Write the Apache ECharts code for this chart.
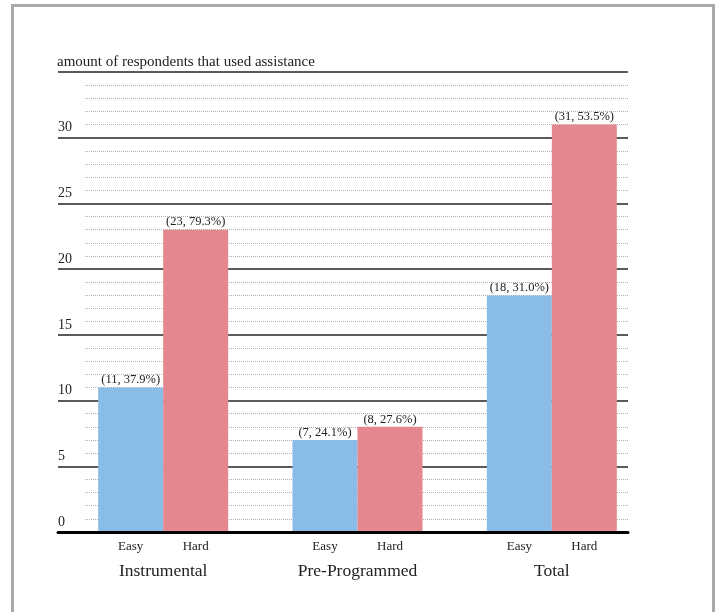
<!DOCTYPE html>
<html>
<head>
<meta charset="utf-8">
<script src="https://cdn.jsdelivr.net/npm/echarts@6/dist/echarts.min.js"></script>
<style>
  html, body { margin: 0; padding: 0; background: #fff; }
  #frame {
    position: absolute; left: 11px; top: 4px; width: 698px; height: 640px;
    border: 3px solid #aaaaaa; box-sizing: content-box;
  }
  #chart { position: absolute; left: 0; top: 0; width: 720px; height: 612px; }
</style>
</head>
<body>
<div id="frame"></div>
<div id="chart"></div>
<script>
// Assistance usage by task group and difficulty
const groups = ['Instrumental', 'Pre-Programmed', 'Total'];
const levels = ['Easy', 'Hard'];
const easyCounts = [11, 7, 18];
const hardCounts = [23, 8, 31];
const easyShares = ['37.9%', '24.1%', '31.0%'];
const hardShares = ['79.3%', '27.6%', '53.5%'];
const yMax = 35;
const yStep = 5;

const serif = 'Liberation Serif';
const chart = echarts.init(document.getElementById('chart'), null, { renderer: 'canvas' });

function barLabel(shares) {
  return {
    show: true,
    position: 'top',
    distance: 1,
    fontFamily: serif,
    fontSize: 12.5,
    color: '#222',
    formatter: p => '(' + p.value + ', ' + shares[p.dataIndex] + ')'
  };
}

chart.setOption({
  animation: false,
  backgroundColor: 'transparent',
  title: {
    text: 'amount of respondents that used assistance',
    left: 57, top: 55, padding: 0,
    textStyle: { fontFamily: serif, fontSize: 15, fontWeight: 'normal', color: '#222' }
  },
  grid: [
    // major lines, tick labels and baseline
    { left: 58, right: 92, top: 72, bottom: 80 },
    // dotted unit lines
    { left: 85, right: 92, top: 72, bottom: 80 },
    // bars
    { left: 66, right: 71, top: 72, bottom: 80 }
  ],
  xAxis: [
    {
      gridIndex: 0, type: 'value', min: 0, max: 1, z: 5,
      axisLine: { show: true, lineStyle: { color: '#000', width: 3 } },
      axisTick: { show: false }, axisLabel: { show: false }, splitLine: { show: false }
    },
    {
      gridIndex: 1, type: 'value', min: 0, max: 1, show: false
    },
    {
      gridIndex: 2, type: 'category', data: groups,
      axisLine: { show: false }, axisTick: { show: false }, splitLine: { show: false },
      axisLabel: {
        margin: 5,
        interval: 0,
        formatter: v => levels.map(l => '{s|' + l + '}').join('') + '\n{g|' + v + '}',
        rich: {
          s: { fontFamily: serif, fontSize: 13, color: '#222', width: 65, align: 'center', lineHeight: 20 },
          g: { fontFamily: serif, fontSize: 17.5, color: '#222', width: 130, align: 'center', lineHeight: 29 }
        }
      }
    }
  ],
  yAxis: [
    {
      gridIndex: 0, type: 'value', min: 0, max: yMax, interval: yStep,
      axisLine: { show: false }, axisTick: { show: false },
      splitLine: { show: true, lineStyle: { color: '#5a5a5a', width: 2 } },
      axisLabel: {
        inside: true, margin: 0,
        verticalAlign: 'bottom',
        fontFamily: serif, fontSize: 14, color: '#222',
        padding: [0, 0, 3, 0],
        formatter: v => (v === yMax ? '' : String(v))
      }
    },
    {
      gridIndex: 1, type: 'value', min: 0, max: yMax, interval: yStep,
      axisLine: { show: false }, axisTick: { show: false }, axisLabel: { show: false },
      splitLine: { show: false },
      minorTick: { show: false, splitNumber: 5 },
      minorSplitLine: { show: true, lineStyle: { color: '#b0b0b0', width: 1, type: [1, 1] } }
    },
    {
      gridIndex: 2, type: 'value', min: 0, max: yMax, interval: yStep, show: false,
      splitLine: { show: false }
    }
  ],
  series: [
    {
      name: levels[0], type: 'bar', xAxisIndex: 2, yAxisIndex: 2,
      data: easyCounts, barWidth: 65, barGap: '0%',
      itemStyle: { color: '#89bce6' },
      label: barLabel(easyShares)
    },
    {
      name: levels[1], type: 'bar', xAxisIndex: 2, yAxisIndex: 2,
      data: hardCounts, barWidth: 65, barGap: '0%',
      itemStyle: { color: '#e4878f' },
      label: barLabel(hardShares)
    }
  ]
});
</script>
</body>
</html>
